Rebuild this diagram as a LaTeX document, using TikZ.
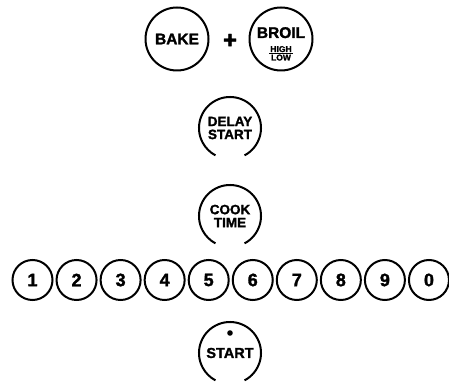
\documentclass[tikz,border=0pt]{standalone}
\usepackage{fontspec}
\newfontfamily\keyfont{Liberation Sans}[UprightFont=* Bold,FakeBold=1.6]
\usetikzlibrary{calc}

\begin{document}
\begin{tikzpicture}[x=1pt,y=1pt,
    ring/.style={line width=2pt},
    btntext/.style={inner sep=0pt,align=center,font=\keyfont\fontsize{13.5}{13}\selectfont},
    button/.style={circle,draw,ring,minimum size=63pt,btntext},
    smalltext/.style={inner sep=1pt,font=\keyfont\fontsize{8.5}{8.5}\selectfont},
    digit/.style={circle,draw,ring,minimum size=40pt,inner sep=0pt,font=\keyfont\fontsize{18}{18}\selectfont}]
    \useasboundingbox (0,0) rectangle (449,385);
    % Top row
    \node[button,font=\keyfont\fontsize{15.5}{15.5}\selectfont] (bake) at (177,346) {BAKE};
    \node[font=\keyfont\fontsize{24}{24}\selectfont] (plus) at (230,344) {+};
    \node[button] (broil) at (281,346) {};
    \node[btntext,anchor=base,font=\keyfont\fontsize{15.5}{15.5}\selectfont] (broiltxt) at ([yshift=1pt]broil.center) {BROIL};
    \node[smalltext,anchor=base] (high) at ([yshift=-13pt]broil.center) {HIGH};
    \draw[line width=1pt] (high.south west) -- (high.south east);
    \node[smalltext,anchor=base] (low) at ([yshift=-21.5pt]broil.center) {LOW};
    % Open rings
    \node[btntext] (delay) at (230,257) {DELAY\\START};
    \draw[ring] (delay.center) ++(-62:31pt) arc[start angle=-62,end angle=242,radius=31pt];
    \node[btntext] (cook) at (230,169) {COOK\\TIME};
    \draw[ring] (cook.center) ++(-62:31pt) arc[start angle=-62,end angle=242,radius=31pt];
    % Number keys
    \foreach \d [count=\i from 0] in {1,2,3,4,5,6,7,8,9,0}
        \node[digit] (key\d) at (32.5+44.05*\i,105) {\d};
    % Start key with dot
    \node[btntext,font=\keyfont\fontsize{14.5}{14.5}\selectfont] (start) at (230,32) {START};
    \draw[ring] (start.center) ++(-62:31pt) arc[start angle=-62,end angle=242,radius=31pt];
    \fill (start.center) ++(0,20pt) circle[radius=2.8pt];
\end{tikzpicture}
\end{document}
